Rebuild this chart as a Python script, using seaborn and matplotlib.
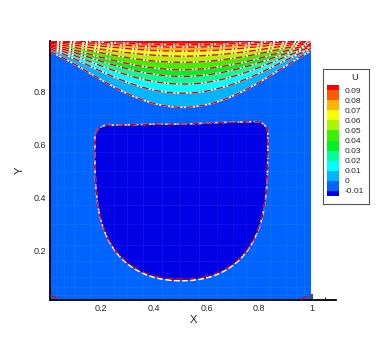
import numpy as np
import matplotlib
matplotlib.use("Agg")
import matplotlib.pyplot as plt
from matplotlib.ticker import MultipleLocator
import seaborn as sns

# ---------------- data ----------------
levels = [-0.01, 0.0, 0.01, 0.02, 0.03, 0.04, 0.05, 0.06, 0.07, 0.08, 0.09]
level_labels = ["-0.01", "0", "0.01", "0.02", "0.03", "0.04",
                "0.05", "0.06", "0.07", "0.08", "0.09"]
band_colors = ["#0000E6", "#0064FF", "#00B4FF", "#00FFFF", "#00FF96",
               "#00F028", "#3CF000", "#AAF500", "#F5FF00", "#FFB400",
               "#FF5A00", "#FF0000"]

# lid-driven layers: depth below the lid (at the centre) of each U level
lid_depth = [0.0, 0.022, 0.032, 0.047, 0.066, 0.089, 0.117, 0.142, 0.171, 0.205, 0.258, 0.34]
lid_level = [0.12, 0.09, 0.08, 0.07, 0.06, 0.05, 0.04, 0.03, 0.02, 0.01, 0.0, -0.005]
# relative depth of the layers across the cavity
shape_x = [0.0, 0.1, 0.2, 0.3, 0.4, 0.5, 0.6, 0.7, 0.8, 0.9, 1.0]
shape_w = [0.18, 0.36, 0.61, 0.80, 0.95, 1.0, 0.97, 0.83, 0.64, 0.40, 0.17]

# negative-U pocket (U < -0.01): centre x, half width, top, bottom, corner radius
pocket_xc, pocket_a = 0.505, 0.327
pocket_top, pocket_top_slope = 0.679, 0.025
pocket_bottom_A, pocket_bottom_B = 0.085, 0.0915
pocket_r = 0.045
pocket_px, pocket_qy = 2.2, 3.5
# small corner eddies seen only in the second (red dash-dot) solution
eddy_x = [0.0, 1.0]
eddy_sx, eddy_sy, eddy_amp = 0.05, 0.03, -0.012
background = -0.005

# faint mesh lines
mesh_x = [0.03, 0.06, 0.10, 0.16, 0.25, 0.30, 0.36, 0.43, 0.50, 0.57, 0.64, 0.70, 0.75, 0.84, 0.90, 0.94, 0.97]
mesh_y = [0.03, 0.06, 0.10, 0.16, 0.22, 0.30, 0.37, 0.44, 0.50, 0.57, 0.64, 0.71, 0.77, 0.84, 0.90, 0.94, 0.97]

# ---------------- build the fields ----------------
x = np.linspace(0.008, 0.995, 500)
y = np.linspace(0.012, 0.991, 500)
X, Y = np.meshgrid(x, y)

w_fit = np.polyfit(shape_x, shape_w, 4)
w = np.polyval(w_fit, X)
T = np.interp((1.0 - Y) / w, lid_depth, lid_level)


def pocket(bottom):
    top = pocket_top + pocket_top_slope * (X - 0.5)
    cy = top - pocket_r
    b = cy - bottom
    dx = np.abs(X - pocket_xc) / pocket_a
    t = np.clip((cy - Y) / b, 0, None)
    s_low = dx ** pocket_px + t ** pocket_qy
    qx = np.maximum(np.abs(X - pocket_xc) - (pocket_a - pocket_r), 0)
    qy = np.maximum(Y - cy, 0)
    s_up = np.sqrt(qx ** 2 + qy ** 2) / pocket_r
    S = np.where(Y < cy, s_low, s_up)
    return -0.01 + 0.005 * np.clip(5 * (S - 1), -1, 1)


UA = pocket(pocket_bottom_A) + T - background
UB = pocket(pocket_bottom_B) + T - background
for ex in eddy_x:
    UB = UB + eddy_amp * np.exp(-(((X - ex) / eddy_sx) ** 2 + (Y / eddy_sy) ** 2))

# ---------------- figure ----------------
sns.set_style("white")
plt.rcParams["font.family"] = ["Liberation Sans", "DejaVu Sans"]
plt.rcParams["axes.unicode_minus"] = False

fig = plt.figure(figsize=(3.82, 3.39), dpi=100)
W, H = 382.0, 339.0
ax = fig.add_axes([50 / W, 1 - 300 / H, 286 / W, 259 / H])

cf = ax.contourf(X, Y, UA, levels=levels, colors=band_colors, extend="both")
for mx in mesh_x:
    ax.axvline(mx, color="white", alpha=0.06, lw=0.8, zorder=1.5)
for my in mesh_y:
    ax.plot([0.008, 0.995], [my, my], color="white", alpha=0.06, lw=0.8, zorder=1.5)
ax.contour(X, Y, UA, levels=levels, colors="white", linewidths=1.1, zorder=2)
ax.contour(X, Y, UB, levels=levels, colors="#E00000", linewidths=1.0,
           linestyles=[(0, (5, 1.5, 1, 1.5))], zorder=3)

ax.set_xlim(0.008, 1.09)
ax.set_ylim(0.012, 0.991)
for s in ["top", "right"]:
    ax.spines[s].set_visible(False)
for s in ["left", "bottom"]:
    ax.spines[s].set_linewidth(1.3)
    ax.spines[s].set_color("black")

ax.set_xticks([0.2, 0.4, 0.6, 0.8, 1.0])
ax.set_xticklabels(["0.2", "0.4", "0.6", "0.8", "1"])
ax.set_yticks([0.2, 0.4, 0.6, 0.8])
ax.set_yticklabels(["0.2", "0.4", "0.6", "0.8"])
ax.xaxis.set_minor_locator(MultipleLocator(0.05))
ax.yaxis.set_minor_locator(MultipleLocator(0.05))
ax.tick_params(which="major", direction="in", length=4, width=1.2, labelsize=6.5, pad=3,
               bottom=True, left=True)
ax.tick_params(which="minor", direction="in", length=2, width=0.8, bottom=True, left=True)
ax.set_xlabel("X", fontsize=8, labelpad=1)
ax.set_ylabel("Y", fontsize=8, labelpad=6)

# legend box
lg = fig.add_axes([323 / W, 1 - 204 / H, 46 / W, 135 / H])
lg.set_xticks([])
lg.set_yticks([])
lg.set_facecolor("white")
for s in lg.spines.values():
    s.set_color("#555555")
    s.set_linewidth(0.8)
fig.text(355 / W, 1 - 77 / H, "U", fontsize=6.5, ha="center", va="center")

cax = fig.add_axes([327 / W, 1 - 196 / H, 12 / W, 111 / H])
cb = fig.colorbar(cf, cax=cax, extend="both", extendrect=True, extendfrac=0.05)
cb.set_ticks(levels)
cb.set_ticklabels(level_labels)
cb.outline.set_visible(False)
cax.tick_params(length=0, labelsize=6, pad=4)

fig.savefig("out.png", dpi=100)
